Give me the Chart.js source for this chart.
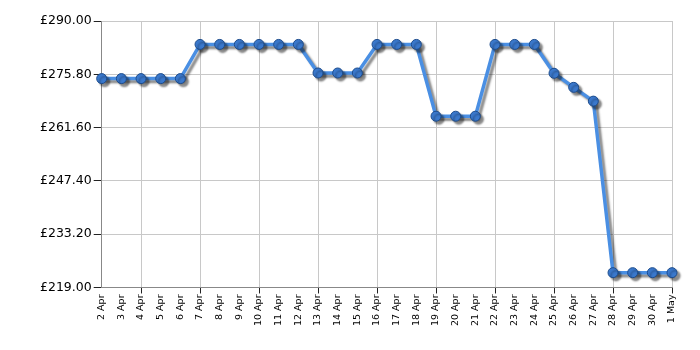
<!DOCTYPE html>
<html>
<head>
<meta charset="utf-8">
<script src="https://cdn.jsdelivr.net/npm/chart.js@4"></script>
<style>
  html, body { margin: 0; padding: 0; background: #fff; }
  #wrap { width: 700px; height: 350px; }
</style>
</head>
<body>
<div id="wrap"><canvas id="priceChart" width="700" height="350"></canvas></div>
<script>
const DATES = ['2 Apr', '3 Apr', '4 Apr', '5 Apr', '6 Apr', '7 Apr', '8 Apr', '9 Apr', '10 Apr',
    '11 Apr', '12 Apr', '13 Apr', '14 Apr', '15 Apr', '16 Apr', '17 Apr', '18 Apr', '19 Apr',
    '20 Apr', '21 Apr', '22 Apr', '23 Apr', '24 Apr', '25 Apr', '26 Apr', '27 Apr', '28 Apr',
    '29 Apr', '30 Apr', '1 May'];
const PRICES = [274.65, 274.65, 274.65, 274.65, 274.65, 283.76, 283.76, 283.76, 283.76,
    283.76, 283.76, 276.15, 276.15, 276.15, 283.76, 283.76, 283.76, 264.63,
    264.63, 264.63, 283.76, 283.76, 283.76, 276.07, 272.32, 268.65, 222.94,
    222.94, 222.94, 222.94];
const Y_TICKS = [219.00, 233.20, 247.40, 261.60, 275.80, 290.00];

const FONT = 'DejaVu Sans, Verdana, sans-serif';

// gray drop shadow under the line and markers
const shadowPlugin = {
    id: 'shadow',
    beforeDatasetDraw(chart) {
        const ctx = chart.ctx;
        ctx.save();
        ctx.shadowColor = 'rgba(0,0,0,0.45)';
        ctx.shadowOffsetX = 3;
        ctx.shadowOffsetY = 3;
        ctx.shadowBlur = 2;
    },
    afterDatasetDraw(chart) {
        chart.ctx.restore();
    }
};

// vertical grid only every third label, starting at 4 Apr
const showX = i => i >= 2 && (i - 2) % 3 === 0;

new Chart(document.getElementById('priceChart'), {
    type: 'line',
    data: {
        labels: DATES,
        datasets: [{
            data: PRICES,
            borderColor: '#4a8fe3',
            borderWidth: 3.5,
            backgroundColor: '#3a78cc',
            pointBackgroundColor: '#3a78cc',
            pointBorderColor: '#1d4c8c',
            pointBorderWidth: 1,
            pointRadius: 5,
            tension: 0,
            fill: false,
            clip: false
        }]
    },
    options: {
        responsive: false,
        animation: false,
        layout: { padding: { left: 38, right: 28, top: 21, bottom: 23 } },
        plugins: { legend: { display: false }, tooltip: { enabled: false } },
        scales: {
            x: {
                offset: false,
                border: { color: '#888', width: 1 },
                grid: {
                    color: c => showX(c.index) ? '#c8c8c8' : 'rgba(0,0,0,0)',
                    tickColor: c => showX(c.index) ? '#222' : 'rgba(0,0,0,0)',
                    tickLength: 6
                },
                ticks: {
                    autoSkip: false,
                    maxRotation: 90,
                    minRotation: 90,
                    padding: 1,
                    color: '#000',
                    font: { family: FONT, size: 9.5 }
                }
            },
            y: {
                min: 219,
                max: 290,
                border: { color: '#888', width: 1 },
                afterBuildTicks: axis => {
                    axis.ticks = Y_TICKS.map(v => ({ value: v }));
                },
                grid: { color: '#c8c8c8', tickColor: '#222', tickLength: 8 },
                ticks: {
                    padding: 2,
                    color: '#000',
                    font: { family: FONT, size: 12.5 },
                    callback: v => '£' + Number(v).toFixed(2)
                }
            }
        }
    },
    plugins: [shadowPlugin]
});
</script>
</body>
</html>
